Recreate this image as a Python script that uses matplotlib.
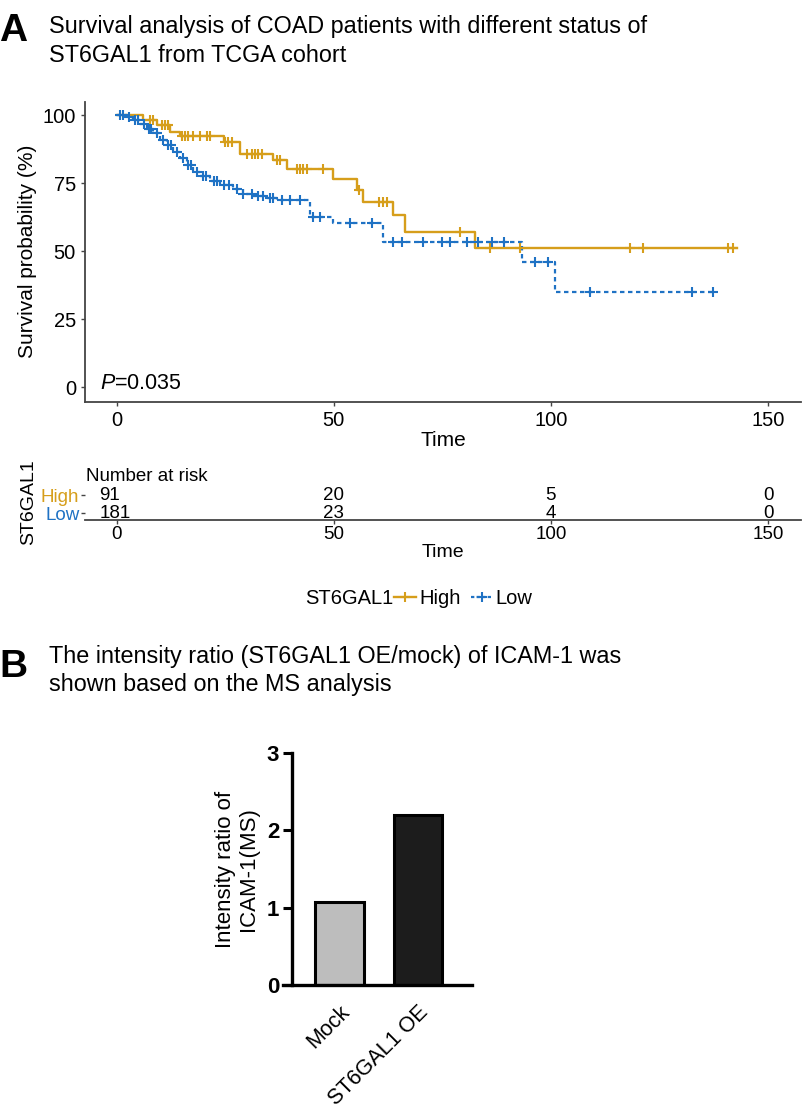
import numpy as np
import matplotlib
matplotlib.use("Agg")
import matplotlib.pyplot as plt
from matplotlib.lines import Line2D

plt.rcParams['font.family'] = ['Liberation Sans', 'DejaVu Sans']
plt.rcParams['mathtext.fontset'] = 'custom'
plt.rcParams['mathtext.it'] = 'Liberation Sans:italic'
plt.rcParams['mathtext.rm'] = 'Liberation Sans'

# ---- panel A data ----
high_time = [0, 6.1, 9.2, 12.3, 14.6, 24.6, 28.4, 36.1, 39.2, 49.9, 55.3, 56.8,
             63.7, 66.4, 82.5, 142.8]
high_surv = [100, 98.2, 96.3, 93.9, 92.3, 90.2, 85.9, 83.5, 80.4, 76.7, 72.4,
             68.1, 63.2, 57.1, 51.0, 51.0]
high_cens = [7.7, 8.4, 10.4, 11.1, 11.9, 15.0, 15.7, 16.5, 17.6, 19.2, 20.7,
             21.5, 24.9, 25.7, 26.5, 29.9, 31.1, 31.9, 32.6, 33.4, 36.9, 37.6,
             41.5, 42.2, 43.0, 43.8, 47.6, 55.7, 60.3, 61.4, 62.2, 79.1, 86.0,
             92.9, 118.2, 121.3, 140.9, 142.0]

low_time = [0, 2.3, 3.8, 5.4, 6.9, 8.4, 10.0, 11.5, 13.0, 14.6, 16.1, 17.6,
            19.2, 21.5, 23.8, 26.9, 29.2, 31.5, 34.6, 36.9, 44.5, 49.9, 61.4,
            93.3, 101.0, 137.4]
low_surv = [100, 99.4, 98.4, 96.9, 95.1, 93.3, 90.8, 89.0, 86.5, 84.1, 81.6,
            79.2, 77.6, 75.9, 74.3, 72.7, 71.2, 70.2, 69.4, 68.8, 62.6, 60.2,
            53.4, 46.1, 35.0, 35.0]
low_cens = [0.8, 1.5, 2.8, 4.2, 5.0, 6.2, 7.4, 8.0, 9.2, 10.6, 11.8, 12.6,
            13.8, 15.2, 16.5, 17.2, 18.4, 19.8, 20.6, 22.4, 23.2, 24.6, 25.8,
            27.6, 29.2, 31.1, 32.6, 33.8, 35.3, 36.1, 38.0, 39.9, 42.2, 45.3,
            46.8, 53.7, 58.7, 63.7, 65.6, 70.6, 74.9, 76.8, 80.6, 83.3, 86.4,
            89.1, 96.4, 99.4, 109.0, 132.5, 137.4]

risk_times = [0, 50, 100, 150]
risk_high = [91, 20, 5, 0]
risk_low = [181, 23, 4, 0]
p_text = "=0.035"

# ---- panel B data ----
groups = ["Mock", "ST6GAL1 OE"]
ratio = [1.07, 2.2]

gold = "#D69E1B"
blue = "#1F72C4"
W, H = 806, 1116


def fx(px):
    return px / W


def fy(py):
    return 1 - py / H


def censor_y(times, surv, cens):
    idx = np.searchsorted(times, cens, side="right") - 1
    return np.asarray(surv)[idx]


fig = plt.figure(figsize=(W / 100, H / 100), dpi=100)

# ---------------- panel A: KM curve ----------------
fig.text(fx(-1), fy(41), "A", fontsize=28, fontweight="bold", va="baseline")
fig.text(fx(49), fy(26), "Survival analysis of COAD patients with different status of",
         fontsize=16.8, va="center")
fig.text(fx(49), fy(55), "ST6GAL1 from TCGA cohort", fontsize=16.8, va="center")

ax = fig.add_axes([fx(85), fy(401.7), (801 - 85) / W, 300 / H])
ax.step(high_time, high_surv, where="post", color=gold, lw=1.7)
ax.step(low_time, low_surv, where="post", color=blue, lw=1.6, ls=(0, (2, 1.6)))
ax.plot(high_cens, censor_y(high_time, high_surv, high_cens), ls="none",
        marker="+", ms=6.5, mew=1.5, color=gold)
ax.plot(low_cens, censor_y(low_time, low_surv, low_cens), ls="none",
        marker="+", ms=6.5, mew=1.5, color=blue)
ax.set_xlim(-7.3, 157.6)
ax.set_ylim(-5.4, 105)
ax.set_xticks(risk_times)
ax.set_yticks([0, 25, 50, 75, 100])
ax.tick_params(labelsize=14.5, length=3, width=1, color="#444444")
for s in ["top", "right"]:
    ax.spines[s].set_visible(False)
for s in ["left", "bottom"]:
    ax.spines[s].set_color("#444444")
    ax.spines[s].set_linewidth(1.3)
ax.set_xlabel("Time", fontsize=15, labelpad=1)
ax.set_ylabel("Survival probability (%)", fontsize=15, labelpad=4)
ax.text(-3.8, 1.3, "$\\it{P}$" + p_text, fontsize=15.5, ha="left", va="center")

# risk table
rt = fig.add_axes([fx(85), fy(520), (801 - 85) / W, 35 / H])
rt.set_xlim(-7.3, 157.6)
rt.set_ylim(-0.4, 1.6)
for i, t in enumerate(risk_times):
    ha = "left" if i == 0 else "center"
    xt = -4.0 if i == 0 else t
    rt.text(xt, 1, str(risk_high[i]), fontsize=13.5, ha=ha, va="center")
    rt.text(xt, 0, str(risk_low[i]), fontsize=13.5, ha=ha, va="center")
rt.set_xticks(risk_times)
rt.set_yticks([1, 0])
rt.set_yticklabels(["High", "Low"])
rt.get_yticklabels()[0].set_color(gold)
rt.get_yticklabels()[1].set_color(blue)
rt.tick_params(labelsize=13.5, length=3, width=1, color="#444444", pad=1)
for s in ["top", "right", "left"]:
    rt.spines[s].set_visible(False)
rt.spines["bottom"].set_color("#444444")
rt.spines["bottom"].set_linewidth(1.3)
rt.set_xlabel("Time", fontsize=14, labelpad=1)
rt.set_ylabel("ST6GAL1", fontsize=14, labelpad=3)
rt.text(-7.3 + 0.3, 1.6, "Number at risk", fontsize=13.5, ha="left", va="bottom")

# legend
fig.text(fx(393), fy(599), "ST6GAL1", fontsize=14.5, ha="right", va="center")
handles = [Line2D([], [], color=gold, lw=1.7, marker="+", ms=6.5, mew=1.5),
           Line2D([], [], color=blue, lw=1.6, ls=(0, (1.5, 1)), marker="+", ms=6.5, mew=1.5)]
fig.legend(handles, ["High", "Low"], loc="center left",
           bbox_to_anchor=(fx(394), fy(599)), ncol=2, frameon=False,
           fontsize=14.5, handlelength=1.1, handletextpad=0.15,
           columnspacing=0.5, borderpad=0, borderaxespad=0)

# ---------------- panel B: bar chart ----------------
fig.text(fx(-1), fy(677), "B", fontsize=28, fontweight="bold", va="baseline")
fig.text(fx(49), fy(656), "The intensity ratio (ST6GAL1 OE/mock) of ICAM-1 was",
         fontsize=16.8, va="center")
fig.text(fx(49), fy(685), "shown based on the MS analysis", fontsize=16.8, va="center")

bx = fig.add_axes([fx(283), fy(985), (472 - 283) / W, (985 - 753) / H])
x = np.arange(len(groups))
bx.bar(x, ratio, width=0.62, color=["#BDBDBD", "#1C1C1C"], edgecolor="black",
       linewidth=2.2)
bx.set_xlim(-0.72, 1.69)
bx.set_ylim(0, 3)
bx.spines["left"].set_position(("data", -0.6))
for s in ["top", "right"]:
    bx.spines[s].set_visible(False)
for s in ["left", "bottom"]:
    bx.spines[s].set_linewidth(2.4)
bx.set_yticks([0, 1, 2, 3])
bx.set_xticks(x)
bx.set_xticklabels(groups, rotation=45, ha="right", rotation_mode="anchor",
                   fontsize=15.5)
bx.tick_params(axis="y", length=6.5, width=2.2, labelsize=16, pad=3)
bx.tick_params(axis="x", length=0, pad=12)
for lab in bx.get_yticklabels():
    lab.set_fontweight("bold")
bx.set_ylabel("Intensity ratio of\nICAM-1(MS)", fontsize=16, labelpad=6,
              linespacing=1.1)

fig.savefig("out.png", dpi=100)
